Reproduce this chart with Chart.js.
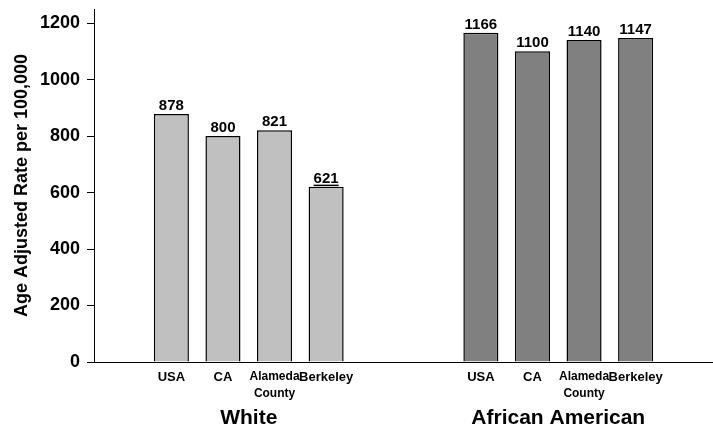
<!DOCTYPE html>
<html>
<head>
<meta charset="utf-8">
<script src="https://cdn.jsdelivr.net/npm/chart.js@4/dist/chart.umd.min.js"></script>
<style>
  html, body { margin: 0; padding: 0; background: #fff; overflow: hidden; }
  #wrap { width: 713px; height: 427px; }
</style>
</head>
<body>
<div id="wrap"><canvas id="c"></canvas></div>
<script>
// Areas compared within each group
const places = ['USA', 'CA', ['Alameda', 'County'], 'Berkeley'];
const groups = ['White', 'African American'];

// Age adjusted rate per 100,000
const whiteRates = [878, 800, 821, 621];
const blackRates = [1166, 1100, 1140, 1147];

// Rates marked with an underline
const whiteFlagged = [false, false, false, true];
const blackFlagged = [false, false, false, false];

const yTicks = [0, 200, 400, 600, 800, 1000, 1200];

// Slot layout: one empty slot, four places, two empty slots, four places, one empty slot
const whiteStart = 1, blackStart = 7, slotCount = 12;

const labels = new Array(slotCount).fill('');
const whiteData = new Array(slotCount).fill(null);
const blackData = new Array(slotCount).fill(null);
const whiteFlags = new Array(slotCount).fill(false);
const blackFlags = new Array(slotCount).fill(false);
places.forEach((p, i) => {
  labels[whiteStart + i] = p;
  labels[blackStart + i] = p;
  whiteData[whiteStart + i] = whiteRates[i];
  blackData[blackStart + i] = blackRates[i];
  whiteFlags[whiteStart + i] = whiteFlagged[i];
  blackFlags[blackStart + i] = blackFlagged[i];
});

const FONT = '"Liberation Sans", Arial, Helvetica, sans-serif';

// Numbers printed above each bar
const valueLabels = {
  id: 'valueLabels',
  afterDatasetsDraw(chart) {
    const ctx = chart.ctx;
    ctx.save();
    ctx.font = 'bold 15px ' + FONT;
    ctx.fillStyle = '#000';
    ctx.textAlign = 'center';
    ctx.textBaseline = 'alphabetic';
    chart.data.datasets.forEach((ds, di) => {
      const meta = chart.getDatasetMeta(di);
      meta.data.forEach((bar, i) => {
        const v = ds.data[i];
        if (v === null || v === undefined) return;
        const text = String(v);
        const x = bar.x, y = bar.y - 4;
        ctx.fillText(text, x, y);
        if (ds.flags && ds.flags[i]) {
          const w = ctx.measureText(text).width;
          ctx.fillRect(x - w / 2, y + 2, w, 1.5);
        }
      });
    });
    ctx.restore();
  }
};

// Group names under the category labels
const groupTitles = {
  id: 'groupTitles',
  afterDraw(chart) {
    const ctx = chart.ctx;
    const xs = chart.scales.x;
    ctx.save();
    ctx.font = 'bold 21px ' + FONT;
    ctx.fillStyle = '#000';
    ctx.textAlign = 'center';
    ctx.textBaseline = 'alphabetic';
    [whiteStart, blackStart].forEach((start, g) => {
      const cx = (xs.getPixelForValue(start) + xs.getPixelForValue(start + places.length - 1)) / 2;
      ctx.fillText(groups[g], cx, 424);
    });
    ctx.restore();
  }
};

new Chart(document.getElementById('c'), {
  type: 'bar',
  data: {
    labels: labels,
    datasets: [
      {
        label: groups[0],
        data: whiteData,
        flags: whiteFlags,
        backgroundColor: '#C0C0C0',
        borderColor: '#000000',
        borderWidth: 1.5
      },
      {
        label: groups[1],
        data: blackData,
        flags: blackFlags,
        backgroundColor: '#808080',
        borderColor: '#000000',
        borderWidth: 1.5
      }
    ]
  },
  options: {
    responsive: true,
    maintainAspectRatio: false,
    animation: false,
    layout: { padding: { top: 9, right: -2, left: 0, bottom: 0 } },
    datasets: {
      bar: { grouped: false, categoryPercentage: 1, barPercentage: 0.68 }
    },
    plugins: {
      legend: { display: false },
      tooltip: { enabled: false }
    },
    scales: {
      x: {
        grid: { display: false, drawTicks: false },
        border: { display: true, color: '#000', width: 1 },
        ticks: {
          autoSkip: false,
          maxRotation: 0,
          padding: 6,
          color: '#000',
          font: (c) => ({
            family: FONT,
            size: Array.isArray(labels[c.index]) ? 12 : 13,
            weight: 'bold',
            lineHeight: 1.4
          })
        },
        afterFit(scale) {
          scale.height = 65;
          scale.paddingLeft = 0;
          scale.paddingRight = 0;
        }
      },
      y: {
        min: 0,
        max: 1250,
        afterBuildTicks(scale) { scale.ticks = yTicks.map(v => ({ value: v })); },
        grid: { drawOnChartArea: false, drawTicks: true, tickLength: 7, color: '#000' },
        border: { display: true, color: '#000', width: 1 },
        ticks: {
          padding: 7,
          color: '#000',
          callback: (v) => String(v),
          font: { family: FONT, size: 18, weight: 'bold', lineHeight: 1 }
        },
        title: {
          display: true,
          text: 'Age Adjusted Rate per 100,000',
          color: '#000',
          padding: { top: 12, bottom: 0 },
          font: { family: FONT, size: 18, weight: 'bold', lineHeight: 1.1 }
        },
        afterFit(scale) {
          scale.width = 94;
          scale.paddingTop = 0;
          scale.paddingBottom = 0;
        }
      }
    }
  },
  plugins: [valueLabels, groupTitles]
});
</script>
</body>
</html>
